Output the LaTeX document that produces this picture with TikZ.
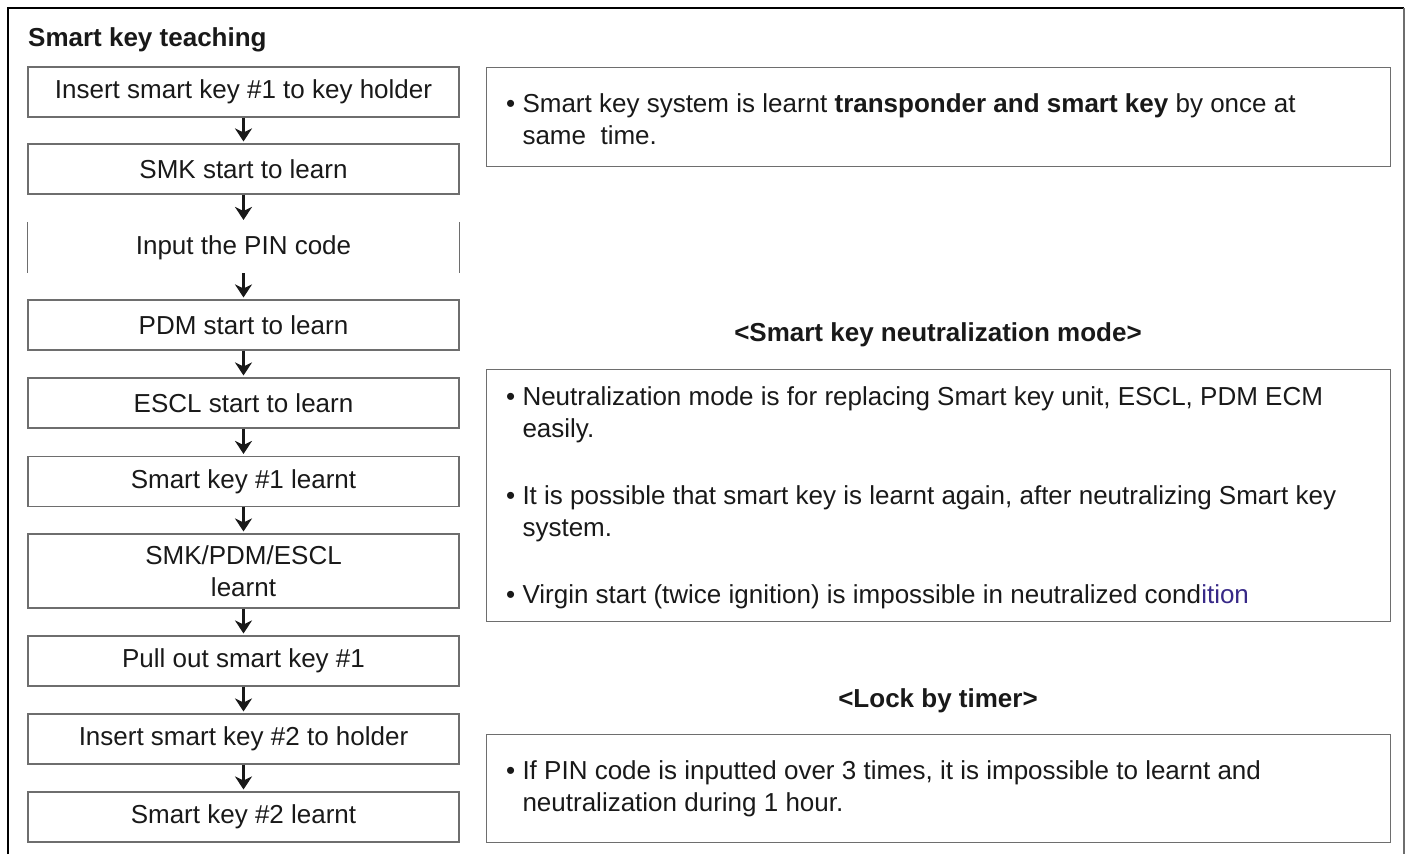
\documentclass[tikz,border=0pt]{standalone}
\usepackage{fontspec}
\setmainfont{Liberation Sans}
\usetikzlibrary{arrows.meta,positioning}
\definecolor{boxgray}{RGB}{110,110,110}
\definecolor{textdark}{RGB}{25,25,25}
\definecolor{tailblue}{RGB}{55,40,135}
\newcommand{\itemlines}[2]{\begin{tabular}[t]{@{}l@{ }l@{}}\textbullet & #1\\ & #2\end{tabular}}

\begin{document}
\begin{tikzpicture}[x=1pt,y=-1pt,
  every node/.style={font=\fontsize{26}{32}\selectfont,text=textdark},
  stepbox/.style={draw=boxgray,line width=1.1pt,minimum width=431,minimum height=50,inner sep=0pt,align=center},
  infobox/.style={draw=boxgray,line width=1.1pt,minimum width=904,inner sep=0pt,anchor=north west},
  note/.style={anchor=base west,inner sep=0pt},
  heading/.style={font=\fontsize{26}{32}\selectfont\bfseries,inner sep=0pt,anchor=base},
  flow/.style={-{Stealth[length=13pt,width=17pt,inset=4pt]},line width=2.4pt,textdark,shorten >=2pt}]
\useasboundingbox (0,0) rectangle (1407,854);
% outer frame
\draw[line width=2pt] (8,854) -- (8,8) -- (1404,8);
\draw[line width=1.2pt,boxgray] (1404,8) -- (1404,854);
\node[heading,anchor=base west] (title) at (28,46) {Smart key teaching};

% flow of steps
\foreach \n/\y/\txt in {1/92/{Insert smart key \#1 to key holder},2/169/{SMK start to learn},
    4/325/{PDM start to learn},5/403/{ESCL start to learn},6/481.5/{Smart key \#1 learnt},
    8/661/{Pull out smart key \#1},9/739/{Insert smart key \#2 to holder},10/817/{Smart key \#2 learnt}}
  \node[stepbox] (s\n) at (243.5,\y) {\txt};
\node[stepbox,draw=none] (s3) at (243.5,247.5) {Input the PIN code};
\draw[boxgray,line width=1.1pt] (s3.north west) -- (s3.south west) (s3.north east) -- (s3.south east);
\node[stepbox,minimum height=74] (s7) at (243.5,571) {SMK/PDM/ESCL\\learnt};
\foreach \a/\b in {1/2,2/3,3/4,4/5,5/6,6/7,7/8,8/9,9/10}
  \draw[flow] (s\a) -- (s\b);

% notes on the right
\node[infobox,minimum height=99] (infoA) at (486,67) {};
\node[note] (noteA) at (506,112) {\itemlines{Smart key system is learnt \textbf{transponder and smart key} by once at}{same\ \ time.}};

\node[heading] (headB) at (938,341) {<Smart key neutralization mode>};
\node[infobox,minimum height=252] (infoB) at (486,369) {};
\node[note] (noteB1) at (506,405) {\itemlines{Neutralization mode is for replacing Smart key unit, ESCL, PDM ECM}{easily.}};
\node[note] (noteB2) at (506,504) {\itemlines{It is possible that smart key is learnt again, after neutralizing Smart key}{system.}};
\node[note] (noteB3) at (506,603) {\textbullet\ Virgin start (twice ignition) is impossible in neutralized cond\textcolor{tailblue}{ition}};

\node[heading] (headC) at (938,707) {<Lock by timer>};
\node[infobox,minimum height=108] (infoC) at (486,734) {};
\node[note] (noteC) at (506,779) {\itemlines{If PIN code is inputted over 3 times, it is impossible to learnt and}{neutralization during 1 hour.}};
\end{tikzpicture}
\end{document}
